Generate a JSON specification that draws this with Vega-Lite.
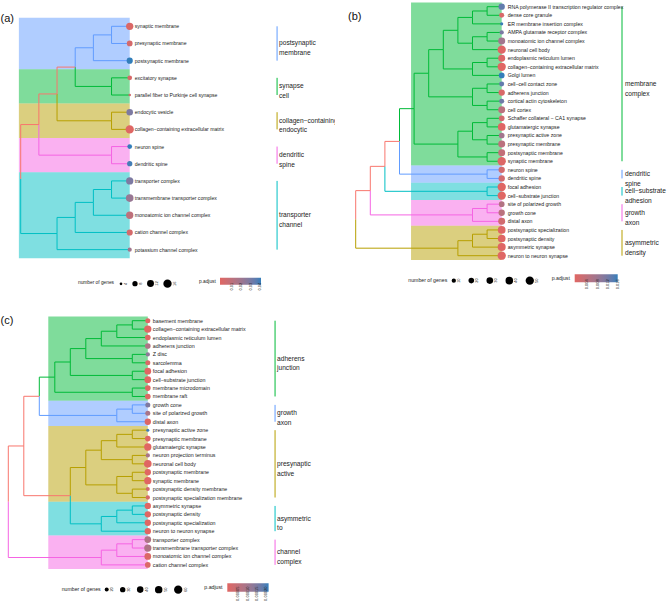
{
  "$schema": "https://vega.github.io/schema/vega-lite/v6.json",
  "padding": 0,
  "background": "white",
  "bounds": "flush",
  "columns": 2,
  "spacing": {"row": 50, "column": 0},
  "config": {
    "view": {"stroke": null},
    "font": "Liberation Sans",
    "style": {"guide-label": {"angle": -90}},
    "legend": {
      "padding": 0,
      "titleFontWeight": "normal",
      "titleColor": "#222",
      "labelColor": "#222",
      "labelOverlap": false,
      "titlePadding": 4,
      "gradientStrokeWidth": 0,
      "symbolStrokeWidth": 0,
      "labelFont": "Liberation Sans",
      "titleFont": "Liberation Sans"
    },
    "title": {"frame": "group", "anchor": "start", "orient": "top", "offset": 0, "baseline": "alphabetic", "fontSize": 11, "fontWeight": "normal", "font": "Liberation Sans", "color": "#111"}
  },
  "datasets": {
    "a_leaves": [
      {"i": 1, "term": "synaptic membrane", "count": 13, "p_adjust": 0.002},
      {"i": 2, "term": "presynaptic membrane", "count": 9, "p_adjust": 0.004},
      {"i": 3, "term": "postsynaptic membrane", "count": 10, "p_adjust": 0.043},
      {"i": 4, "term": "excitatory synapse", "count": 7, "p_adjust": 0.003},
      {"i": 5, "term": "parallel fiber to Purkinje cell synapse", "count": 4, "p_adjust": 0.006},
      {"i": 6, "term": "endocytic vesicle", "count": 11, "p_adjust": 0.031},
      {"i": 7, "term": "collagen−containing extracellular matrix", "count": 16, "p_adjust": 0.0005},
      {"i": 8, "term": "neuron spine", "count": 7, "p_adjust": 0.043},
      {"i": 9, "term": "dendritic spine", "count": 8, "p_adjust": 0.041},
      {"i": 10, "term": "transporter complex", "count": 13, "p_adjust": 0.031},
      {"i": 11, "term": "transmembrane transporter complex", "count": 14, "p_adjust": 0.024},
      {"i": 12, "term": "monoatomic ion channel complex", "count": 13, "p_adjust": 0.012},
      {"i": 13, "term": "cation channel complex", "count": 10, "p_adjust": 0.004},
      {"i": 14, "term": "potassium channel complex", "count": 6, "p_adjust": 0.021}
    ],
    "a_clusters": [
      {"clade": "postsynaptic membrane", "label": ["postsynaptic", "membrane"], "from": 0.5, "to": 3.5, "first": 1, "last": 3, "mid": 2},
      {"clade": "synapse cell", "label": ["synapse", "cell"], "from": 3.5, "to": 5.5, "first": 4, "last": 5, "mid": 4.5},
      {"clade": "collagen−containing endocytic", "label": ["collagen−containing", "endocytic"], "from": 5.5, "to": 7.5, "first": 6, "last": 7, "mid": 6.5},
      {"clade": "dendritic spine", "label": ["dendritic", "spine"], "from": 7.5, "to": 9.5, "first": 8, "last": 9, "mid": 8.5},
      {"clade": "transporter channel", "label": ["transporter", "channel"], "from": 9.5, "to": 14.5, "first": 10, "last": 14, "mid": 12}
    ],
    "a_edges": [
      {"px": 0, "py": 9.890625, "cx": 1, "cy": 6.71875, "clade": "backbone"},
      {"px": 0, "py": 9.890625, "cx": 2, "cy": 13.0625, "clade": "transporter channel"},
      {"px": 1, "py": 6.71875, "cx": 2, "cy": 4.9375, "clade": "backbone"},
      {"px": 1, "py": 6.71875, "cx": 5, "cy": 8.5, "clade": "dendritic spine"},
      {"px": 2, "py": 4.9375, "cx": 3, "cy": 3.375, "clade": "backbone"},
      {"px": 2, "py": 4.9375, "cx": 5, "cy": 6.5, "clade": "collagen−containing endocytic"},
      {"px": 3, "py": 3.375, "cx": 4, "cy": 2.25, "clade": "postsynaptic membrane"},
      {"px": 3, "py": 3.375, "cx": 5, "cy": 4.5, "clade": "synapse cell"},
      {"px": 4, "py": 2.25, "cx": 5, "cy": 1.5, "clade": "postsynaptic membrane"},
      {"px": 4, "py": 2.25, "cx": 6, "cy": 3, "clade": "postsynaptic membrane"},
      {"px": 5, "py": 1.5, "cx": 6, "cy": 1, "clade": "postsynaptic membrane"},
      {"px": 5, "py": 1.5, "cx": 6, "cy": 2, "clade": "postsynaptic membrane"},
      {"px": 5, "py": 4.5, "cx": 6, "cy": 4, "clade": "synapse cell"},
      {"px": 5, "py": 4.5, "cx": 6, "cy": 5, "clade": "synapse cell"},
      {"px": 5, "py": 6.5, "cx": 6, "cy": 6, "clade": "collagen−containing endocytic"},
      {"px": 5, "py": 6.5, "cx": 6, "cy": 7, "clade": "collagen−containing endocytic"},
      {"px": 5, "py": 8.5, "cx": 6, "cy": 8, "clade": "dendritic spine"},
      {"px": 5, "py": 8.5, "cx": 6, "cy": 9, "clade": "dendritic spine"},
      {"px": 2, "py": 13.0625, "cx": 3, "cy": 12.125, "clade": "transporter channel"},
      {"px": 2, "py": 13.0625, "cx": 6, "cy": 14, "clade": "transporter channel"},
      {"px": 3, "py": 12.125, "cx": 4, "cy": 11.25, "clade": "transporter channel"},
      {"px": 3, "py": 12.125, "cx": 6, "cy": 13, "clade": "transporter channel"},
      {"px": 4, "py": 11.25, "cx": 5, "cy": 10.5, "clade": "transporter channel"},
      {"px": 4, "py": 11.25, "cx": 6, "cy": 12, "clade": "transporter channel"},
      {"px": 5, "py": 10.5, "cx": 6, "cy": 10, "clade": "transporter channel"},
      {"px": 5, "py": 10.5, "cx": 6, "cy": 11, "clade": "transporter channel"}
    ],
    "b_leaves": [
      {"i": 1, "term": "RNA polymerase II transcription regulator complex", "count": 27, "p_adjust": 0.014},
      {"i": 2, "term": "dense core granule", "count": 15, "p_adjust": 0.001},
      {"i": 3, "term": "ER membrane insertion complex", "count": 3, "p_adjust": 0.0162},
      {"i": 4, "term": "AMPA glutamate receptor complex", "count": 10, "p_adjust": 0.012},
      {"i": 5, "term": "monoatomic ion channel complex", "count": 34, "p_adjust": 0.008},
      {"i": 6, "term": "neuronal cell body", "count": 50, "p_adjust": 0.0001},
      {"i": 7, "term": "endoplasmic reticulum lumen", "count": 34, "p_adjust": 0.0005},
      {"i": 8, "term": "collagen−containing extracellular matrix", "count": 50, "p_adjust": 0.00001},
      {"i": 9, "term": "Golgi lumen", "count": 21, "p_adjust": 0.0165},
      {"i": 10, "term": "cell−cell contact zone", "count": 15, "p_adjust": 0.014},
      {"i": 11, "term": "adherens junction", "count": 27, "p_adjust": 0.001},
      {"i": 12, "term": "cortical actin cytoskeleton", "count": 15, "p_adjust": 0.013},
      {"i": 13, "term": "cell cortex", "count": 34, "p_adjust": 0.005},
      {"i": 14, "term": "Schaffer collateral − CA1 synapse", "count": 21, "p_adjust": 0.002},
      {"i": 15, "term": "glutamatergic synapse", "count": 42, "p_adjust": 0.0001},
      {"i": 16, "term": "presynaptic active zone", "count": 21, "p_adjust": 0.008},
      {"i": 17, "term": "presynaptic membrane", "count": 34, "p_adjust": 0.005},
      {"i": 18, "term": "postsynaptic membrane", "count": 34, "p_adjust": 0.004},
      {"i": 19, "term": "synaptic membrane", "count": 50, "p_adjust": 0.0005},
      {"i": 20, "term": "neuron spine", "count": 27, "p_adjust": 0.002},
      {"i": 21, "term": "dendritic spine", "count": 27, "p_adjust": 0.002},
      {"i": 22, "term": "focal adhesion", "count": 50, "p_adjust": 0.0002},
      {"i": 23, "term": "cell−substrate junction", "count": 50, "p_adjust": 0.0002},
      {"i": 24, "term": "site of polarized growth", "count": 21, "p_adjust": 0.006},
      {"i": 25, "term": "growth cone", "count": 27, "p_adjust": 0.005},
      {"i": 26, "term": "distal axon", "count": 34, "p_adjust": 0.002},
      {"i": 27, "term": "postsynaptic specialization", "count": 42, "p_adjust": 0.0001},
      {"i": 28, "term": "postsynaptic density", "count": 42, "p_adjust": 0.0001},
      {"i": 29, "term": "asymmetric synapse", "count": 46, "p_adjust": 0.0001},
      {"i": 30, "term": "neuron to neuron synapse", "count": 50, "p_adjust": 0.0001}
    ],
    "b_clusters": [
      {"clade": "membrane complex", "label": ["membrane", "complex"], "from": 0.5, "to": 19.5, "first": 1, "last": 19, "mid": 10},
      {"clade": "dendritic spine", "label": ["dendritic", "spine"], "from": 19.5, "to": 21.5, "first": 20, "last": 21, "mid": 20.5},
      {"clade": "cell−substrate adhesion", "label": ["cell−substrate", "adhesion"], "from": 21.5, "to": 23.5, "first": 22, "last": 23, "mid": 22.5},
      {"clade": "growth axon", "label": ["growth", "axon"], "from": 23.5, "to": 26.5, "first": 24, "last": 26, "mid": 25},
      {"clade": "asymmetric density", "label": ["asymmetric", "density"], "from": 26.5, "to": 30.5, "first": 27, "last": 30, "mid": 28.5}
    ],
    "b_edges": [
      {"px": 0, "py": 25.7734375, "cx": 1, "cy": 22.421875, "clade": "backbone"},
      {"px": 0, "py": 25.7734375, "cx": 7, "cy": 29.125, "clade": "asymmetric density"},
      {"px": 1, "py": 22.421875, "cx": 2, "cy": 19.59375, "clade": "backbone"},
      {"px": 1, "py": 22.421875, "cx": 8, "cy": 25.25, "clade": "growth axon"},
      {"px": 2, "py": 19.59375, "cx": 3, "cy": 16.6875, "clade": "backbone"},
      {"px": 2, "py": 19.59375, "cx": 9, "cy": 22.5, "clade": "cell−substrate adhesion"},
      {"px": 3, "py": 16.6875, "cx": 4, "cy": 12.875, "clade": "membrane complex"},
      {"px": 3, "py": 16.6875, "cx": 9, "cy": 20.5, "clade": "dendritic spine"},
      {"px": 4, "py": 12.875, "cx": 5, "cy": 8.75, "clade": "membrane complex"},
      {"px": 4, "py": 12.875, "cx": 7, "cy": 17, "clade": "membrane complex"},
      {"px": 5, "py": 8.75, "cx": 6, "cy": 6, "clade": "membrane complex"},
      {"px": 5, "py": 8.75, "cx": 8, "cy": 11.5, "clade": "membrane complex"},
      {"px": 6, "py": 6, "cx": 7, "cy": 3.75, "clade": "membrane complex"},
      {"px": 6, "py": 6, "cx": 8, "cy": 8.25, "clade": "membrane complex"},
      {"px": 7, "py": 3.75, "cx": 8, "cy": 2.25, "clade": "membrane complex"},
      {"px": 7, "py": 3.75, "cx": 8, "cy": 5.25, "clade": "membrane complex"},
      {"px": 8, "py": 2.25, "cx": 9, "cy": 1.5, "clade": "membrane complex"},
      {"px": 8, "py": 2.25, "cx": 10, "cy": 3, "clade": "membrane complex"},
      {"px": 9, "py": 1.5, "cx": 10, "cy": 1, "clade": "membrane complex"},
      {"px": 9, "py": 1.5, "cx": 10, "cy": 2, "clade": "membrane complex"},
      {"px": 8, "py": 5.25, "cx": 9, "cy": 4.5, "clade": "membrane complex"},
      {"px": 8, "py": 5.25, "cx": 10, "cy": 6, "clade": "membrane complex"},
      {"px": 9, "py": 4.5, "cx": 10, "cy": 4, "clade": "membrane complex"},
      {"px": 9, "py": 4.5, "cx": 10, "cy": 5, "clade": "membrane complex"},
      {"px": 8, "py": 8.25, "cx": 9, "cy": 7.5, "clade": "membrane complex"},
      {"px": 8, "py": 8.25, "cx": 10, "cy": 9, "clade": "membrane complex"},
      {"px": 9, "py": 7.5, "cx": 10, "cy": 7, "clade": "membrane complex"},
      {"px": 9, "py": 7.5, "cx": 10, "cy": 8, "clade": "membrane complex"},
      {"px": 8, "py": 11.5, "cx": 9, "cy": 10.5, "clade": "membrane complex"},
      {"px": 8, "py": 11.5, "cx": 9, "cy": 12.5, "clade": "membrane complex"},
      {"px": 9, "py": 10.5, "cx": 10, "cy": 10, "clade": "membrane complex"},
      {"px": 9, "py": 10.5, "cx": 10, "cy": 11, "clade": "membrane complex"},
      {"px": 9, "py": 12.5, "cx": 10, "cy": 12, "clade": "membrane complex"},
      {"px": 9, "py": 12.5, "cx": 10, "cy": 13, "clade": "membrane complex"},
      {"px": 7, "py": 17, "cx": 8, "cy": 15.5, "clade": "membrane complex"},
      {"px": 7, "py": 17, "cx": 9, "cy": 18.5, "clade": "membrane complex"},
      {"px": 8, "py": 15.5, "cx": 9, "cy": 14.5, "clade": "membrane complex"},
      {"px": 8, "py": 15.5, "cx": 9, "cy": 16.5, "clade": "membrane complex"},
      {"px": 9, "py": 14.5, "cx": 10, "cy": 14, "clade": "membrane complex"},
      {"px": 9, "py": 14.5, "cx": 10, "cy": 15, "clade": "membrane complex"},
      {"px": 9, "py": 16.5, "cx": 10, "cy": 16, "clade": "membrane complex"},
      {"px": 9, "py": 16.5, "cx": 10, "cy": 17, "clade": "membrane complex"},
      {"px": 9, "py": 18.5, "cx": 10, "cy": 18, "clade": "membrane complex"},
      {"px": 9, "py": 18.5, "cx": 10, "cy": 19, "clade": "membrane complex"},
      {"px": 9, "py": 20.5, "cx": 10, "cy": 20, "clade": "dendritic spine"},
      {"px": 9, "py": 20.5, "cx": 10, "cy": 21, "clade": "dendritic spine"},
      {"px": 9, "py": 22.5, "cx": 10, "cy": 22, "clade": "cell−substrate adhesion"},
      {"px": 9, "py": 22.5, "cx": 10, "cy": 23, "clade": "cell−substrate adhesion"},
      {"px": 8, "py": 25.25, "cx": 9, "cy": 24.5, "clade": "growth axon"},
      {"px": 8, "py": 25.25, "cx": 10, "cy": 26, "clade": "growth axon"},
      {"px": 9, "py": 24.5, "cx": 10, "cy": 24, "clade": "growth axon"},
      {"px": 9, "py": 24.5, "cx": 10, "cy": 25, "clade": "growth axon"},
      {"px": 7, "py": 29.125, "cx": 8, "cy": 28.25, "clade": "asymmetric density"},
      {"px": 7, "py": 29.125, "cx": 10, "cy": 30, "clade": "asymmetric density"},
      {"px": 8, "py": 28.25, "cx": 9, "cy": 27.5, "clade": "asymmetric density"},
      {"px": 8, "py": 28.25, "cx": 10, "cy": 29, "clade": "asymmetric density"},
      {"px": 9, "py": 27.5, "cx": 10, "cy": 27, "clade": "asymmetric density"},
      {"px": 9, "py": 27.5, "cx": 10, "cy": 28, "clade": "asymmetric density"}
    ],
    "c_leaves": [
      {"i": 1, "term": "basement membrane", "count": 27, "p_adjust": 0.000002},
      {"i": 2, "term": "collagen−containing extracellular matrix", "count": 48, "p_adjust": 0.00000001},
      {"i": 3, "term": "endoplasmic reticulum lumen", "count": 32, "p_adjust": 0.000005},
      {"i": 4, "term": "adherens junction", "count": 32, "p_adjust": 0.00009},
      {"i": 5, "term": "Z disc", "count": 22, "p_adjust": 0.00014},
      {"i": 6, "term": "sarcolemma", "count": 27, "p_adjust": 0.00001},
      {"i": 7, "term": "focal adhesion", "count": 42, "p_adjust": 0.0000001},
      {"i": 8, "term": "cell−substrate junction", "count": 42, "p_adjust": 0.0000001},
      {"i": 9, "term": "membrane microdomain", "count": 32, "p_adjust": 0.000003},
      {"i": 10, "term": "membrane raft", "count": 32, "p_adjust": 0.000003},
      {"i": 11, "term": "growth cone", "count": 27, "p_adjust": 0.00016},
      {"i": 12, "term": "site of polarized growth", "count": 27, "p_adjust": 0.0001},
      {"i": 13, "term": "distal axon", "count": 38, "p_adjust": 0.000005},
      {"i": 14, "term": "presynaptic active zone", "count": 15, "p_adjust": 0.00022},
      {"i": 15, "term": "presynaptic membrane", "count": 32, "p_adjust": 0.000004},
      {"i": 16, "term": "glutamatergic synapse", "count": 48, "p_adjust": 0.00000001},
      {"i": 17, "term": "neuron projection terminus", "count": 22, "p_adjust": 0.0001},
      {"i": 18, "term": "neuronal cell body", "count": 52, "p_adjust": 0.000000001},
      {"i": 19, "term": "postsynaptic membrane", "count": 38, "p_adjust": 0.0000001},
      {"i": 20, "term": "synaptic membrane", "count": 48, "p_adjust": 0.00000001},
      {"i": 21, "term": "postsynaptic density membrane", "count": 20, "p_adjust": 0.00003},
      {"i": 22, "term": "postsynaptic specialization membrane", "count": 22, "p_adjust": 0.00002},
      {"i": 23, "term": "asymmetric synapse", "count": 38, "p_adjust": 0.0000001},
      {"i": 24, "term": "postsynaptic density", "count": 38, "p_adjust": 0.0000001},
      {"i": 25, "term": "postsynaptic specialization", "count": 38, "p_adjust": 0.0000001},
      {"i": 26, "term": "neuron to neuron synapse", "count": 38, "p_adjust": 0.0000001},
      {"i": 27, "term": "transporter complex", "count": 42, "p_adjust": 0.00009},
      {"i": 28, "term": "transmembrane transporter complex", "count": 48, "p_adjust": 0.00009},
      {"i": 29, "term": "monoatomic ion channel complex", "count": 42, "p_adjust": 0.00001},
      {"i": 30, "term": "cation channel complex", "count": 32, "p_adjust": 0.00001}
    ],
    "c_clusters": [
      {"clade": "adherens junction", "label": ["adherens", "junction"], "from": 0.5, "to": 10.5, "first": 1, "last": 10, "mid": 5.5},
      {"clade": "growth axon", "label": ["growth", "axon"], "from": 10.5, "to": 13.5, "first": 11, "last": 13, "mid": 12},
      {"clade": "presynaptic active", "label": ["presynaptic", "active"], "from": 13.5, "to": 22.5, "first": 14, "last": 22, "mid": 18},
      {"clade": "asymmetric to", "label": ["asymmetric", "to"], "from": 22.5, "to": 26.5, "first": 23, "last": 26, "mid": 24.5},
      {"clade": "channel complex", "label": ["channel", "complex"], "from": 26.5, "to": 30.5, "first": 27, "last": 30, "mid": 28.5}
    ],
    "c_edges": [
      {"px": 0, "py": 22.501953125, "cx": 1, "cy": 15.87890625, "clade": "backbone"},
      {"px": 0, "py": 22.501953125, "cx": 6, "cy": 29.125, "clade": "channel complex"},
      {"px": 1, "py": 15.87890625, "cx": 2, "cy": 9.9765625, "clade": "backbone"},
      {"px": 1, "py": 15.87890625, "cx": 4, "cy": 21.78125, "clade": "backbone"},
      {"px": 2, "py": 9.9765625, "cx": 3, "cy": 7.703125, "clade": "adherens junction"},
      {"px": 2, "py": 9.9765625, "cx": 7, "cy": 12.25, "clade": "growth axon"},
      {"px": 4, "py": 21.78125, "cx": 5, "cy": 18.4375, "clade": "presynaptic active"},
      {"px": 4, "py": 21.78125, "cx": 6, "cy": 25.125, "clade": "asymmetric to"},
      {"px": 3, "py": 7.703125, "cx": 4, "cy": 5.90625, "clade": "adherens junction"},
      {"px": 3, "py": 7.703125, "cx": 8, "cy": 9.5, "clade": "adherens junction"},
      {"px": 4, "py": 5.90625, "cx": 5, "cy": 4.3125, "clade": "adherens junction"},
      {"px": 4, "py": 5.90625, "cx": 8, "cy": 7.5, "clade": "adherens junction"},
      {"px": 5, "py": 4.3125, "cx": 6, "cy": 3.125, "clade": "adherens junction"},
      {"px": 5, "py": 4.3125, "cx": 8, "cy": 5.5, "clade": "adherens junction"},
      {"px": 6, "py": 3.125, "cx": 7, "cy": 2.25, "clade": "adherens junction"},
      {"px": 6, "py": 3.125, "cx": 9, "cy": 4, "clade": "adherens junction"},
      {"px": 7, "py": 2.25, "cx": 8, "cy": 1.5, "clade": "adherens junction"},
      {"px": 7, "py": 2.25, "cx": 9, "cy": 3, "clade": "adherens junction"},
      {"px": 8, "py": 1.5, "cx": 9, "cy": 1, "clade": "adherens junction"},
      {"px": 8, "py": 1.5, "cx": 9, "cy": 2, "clade": "adherens junction"},
      {"px": 8, "py": 5.5, "cx": 9, "cy": 5, "clade": "adherens junction"},
      {"px": 8, "py": 5.5, "cx": 9, "cy": 6, "clade": "adherens junction"},
      {"px": 8, "py": 7.5, "cx": 9, "cy": 7, "clade": "adherens junction"},
      {"px": 8, "py": 7.5, "cx": 9, "cy": 8, "clade": "adherens junction"},
      {"px": 8, "py": 9.5, "cx": 9, "cy": 9, "clade": "adherens junction"},
      {"px": 8, "py": 9.5, "cx": 9, "cy": 10, "clade": "adherens junction"},
      {"px": 7, "py": 12.25, "cx": 8, "cy": 11.5, "clade": "growth axon"},
      {"px": 7, "py": 12.25, "cx": 9, "cy": 13, "clade": "growth axon"},
      {"px": 8, "py": 11.5, "cx": 9, "cy": 11, "clade": "growth axon"},
      {"px": 8, "py": 11.5, "cx": 9, "cy": 12, "clade": "growth axon"},
      {"px": 5, "py": 18.4375, "cx": 6, "cy": 16.375, "clade": "presynaptic active"},
      {"px": 5, "py": 18.4375, "cx": 7, "cy": 20.5, "clade": "presynaptic active"},
      {"px": 6, "py": 16.375, "cx": 7, "cy": 15.25, "clade": "presynaptic active"},
      {"px": 6, "py": 16.375, "cx": 8, "cy": 17.5, "clade": "presynaptic active"},
      {"px": 7, "py": 15.25, "cx": 8, "cy": 14.5, "clade": "presynaptic active"},
      {"px": 7, "py": 15.25, "cx": 9, "cy": 16, "clade": "presynaptic active"},
      {"px": 8, "py": 14.5, "cx": 9, "cy": 14, "clade": "presynaptic active"},
      {"px": 8, "py": 14.5, "cx": 9, "cy": 15, "clade": "presynaptic active"},
      {"px": 8, "py": 17.5, "cx": 9, "cy": 17, "clade": "presynaptic active"},
      {"px": 8, "py": 17.5, "cx": 9, "cy": 18, "clade": "presynaptic active"},
      {"px": 7, "py": 20.5, "cx": 8, "cy": 19.5, "clade": "presynaptic active"},
      {"px": 7, "py": 20.5, "cx": 8, "cy": 21.5, "clade": "presynaptic active"},
      {"px": 8, "py": 19.5, "cx": 9, "cy": 19, "clade": "presynaptic active"},
      {"px": 8, "py": 19.5, "cx": 9, "cy": 20, "clade": "presynaptic active"},
      {"px": 8, "py": 21.5, "cx": 9, "cy": 21, "clade": "presynaptic active"},
      {"px": 8, "py": 21.5, "cx": 9, "cy": 22, "clade": "presynaptic active"},
      {"px": 6, "py": 25.125, "cx": 7, "cy": 24.25, "clade": "asymmetric to"},
      {"px": 6, "py": 25.125, "cx": 9, "cy": 26, "clade": "asymmetric to"},
      {"px": 7, "py": 24.25, "cx": 8, "cy": 23.5, "clade": "asymmetric to"},
      {"px": 7, "py": 24.25, "cx": 9, "cy": 25, "clade": "asymmetric to"},
      {"px": 8, "py": 23.5, "cx": 9, "cy": 23, "clade": "asymmetric to"},
      {"px": 8, "py": 23.5, "cx": 9, "cy": 24, "clade": "asymmetric to"},
      {"px": 6, "py": 29.125, "cx": 7, "cy": 28.25, "clade": "channel complex"},
      {"px": 6, "py": 29.125, "cx": 9, "cy": 30, "clade": "channel complex"},
      {"px": 7, "py": 28.25, "cx": 8, "cy": 27.5, "clade": "channel complex"},
      {"px": 7, "py": 28.25, "cx": 9, "cy": 29, "clade": "channel complex"},
      {"px": 8, "py": 27.5, "cx": 9, "cy": 27, "clade": "channel complex"},
      {"px": 8, "py": 27.5, "cx": 9, "cy": 28, "clade": "channel complex"}
    ]
  },
  "resolve": {
    "scale": {"x": "independent", "y": "independent", "color": "independent", "size": "independent", "fill": "independent", "stroke": "independent"},
    "legend": {"color": "independent", "size": "independent"}
  },
  "concat": [
    {
      "width": 335,
      "height": 260,
      "title": {"text": "(a)", "dx": 0.5, "dy": 28},
      "layer": [
        {
          "data": {"name": "a_clusters"},
          "mark": {"type": "rect", "fillOpacity": 0.5},
          "encoding": {
            "x": {"datum": -0.1, "type": "quantitative", "scale": {"domain": [-1.139, 17.298], "nice": false, "zero": false}, "axis": null},
            "x2": {"datum": 6},
            "y": {"field": "from", "type": "quantitative", "scale": {"domain": [-0.531, 14.603], "reverse": true, "nice": false, "zero": false}, "axis": null},
            "y2": {"field": "to"},
            "fill": {"field": "clade", "type": "nominal", "legend": null, "scale": {"domain": ["backbone", "postsynaptic membrane", "synapse cell", "collagen−containing endocytic", "dendritic spine", "transporter channel"], "range": ["#F8766D", "#619CFF", "#00BA38", "#B79F00", "#F564E3", "#00BFC4"]}}
          }
        },
        {
          "data": {"name": "a_edges"},
          "mark": {"type": "rule", "strokeWidth": 1},
          "encoding": {
            "x": {"field": "px", "type": "quantitative"},
            "y": {"field": "py", "type": "quantitative"},
            "y2": {"field": "cy"},
            "stroke": {"field": "clade", "type": "nominal", "legend": null, "scale": {"domain": ["backbone", "postsynaptic membrane", "synapse cell", "collagen−containing endocytic", "dendritic spine", "transporter channel"], "range": ["#F8766D", "#619CFF", "#00BA38", "#B79F00", "#F564E3", "#00BFC4"]}}
          }
        },
        {
          "data": {"name": "a_edges"},
          "mark": {"type": "rule", "strokeWidth": 1},
          "encoding": {
            "x": {"field": "px", "type": "quantitative"},
            "x2": {"field": "cx"},
            "y": {"field": "cy", "type": "quantitative"},
            "stroke": {"field": "clade", "type": "nominal", "legend": null}
          }
        },
        {
          "data": {"name": "a_clusters"},
          "mark": {"type": "rule", "strokeWidth": 1},
          "encoding": {
            "x": {"datum": 14.11, "type": "quantitative"},
            "y": {"field": "first", "type": "quantitative"},
            "y2": {"field": "last"},
            "stroke": {"field": "clade", "type": "nominal", "legend": null}
          }
        },
        {
          "data": {"name": "a_clusters"},
          "mark": {"type": "text", "align": "left", "baseline": "middle", "dx": 2, "fontSize": 6.6, "lineHeight": 9.7, "color": "#222", "clip": true},
          "encoding": {
            "x": {"datum": 14.11, "type": "quantitative"},
            "y": {"field": "mid", "type": "quantitative"},
            "text": {"field": "label", "type": "nominal"}
          }
        },
        {
          "data": {"name": "a_leaves"},
          "mark": {"type": "circle", "opacity": 1},
          "encoding": {
            "x": {"datum": 6, "type": "quantitative"},
            "y": {"field": "i", "type": "quantitative"},
            "size": {
              "field": "count", "type": "quantitative",
              "scale": {"domain": [4, 16], "range": [7, 69], "zero": false},
              "legend": {
                "title": "number of genes", "orient": "none", "legendX": 78, "legendY": 279, "direction": "horizontal",
                "titleOrient": "left", "titleAnchor": "middle", "titleBaseline": "middle", "titleFontSize": 4.8,
                "labelFontSize": 4, "labelOffset": 3, "columnPadding": 4, "values": [4, 8, 12, 16],
                "labelAlign": "center", "labelBaseline": "middle",
                "symbolFillColor": "black", "symbolOpacity": 1, "symbolType": "circle"
              }
            },
            "color": {
              "field": "p_adjust", "type": "quantitative",
              "scale": {"domain": [0, 0.043], "range": ["#e06663", "#327eba"], "interpolate": "lab"},
              "legend": {
                "title": "p.adjust", "orient": "none", "legendX": 199, "legendY": 277.7, "direction": "horizontal",
                "titleOrient": "left", "titleAnchor": "middle", "titleBaseline": "middle", "titleFontSize": 4.8,
                "gradientLength": 41, "gradientThickness": 7, "values": [0.01, 0.02, 0.03, 0.04], "format": ".2f",
                "labelFontSize": 4, "labelOffset": 2, "labelAlign": "right", "labelBaseline": "middle"
              }
            }
          }
        },
        {
          "data": {"name": "a_leaves"},
          "mark": {"type": "text", "align": "left", "baseline": "middle", "dx": 5, "fontSize": 5.1, "color": "#222"},
          "encoding": {
            "x": {"datum": 6, "type": "quantitative"},
            "y": {"field": "i", "type": "quantitative"},
            "text": {"field": "term", "type": "nominal"}
          }
        }
      ]
    },
    {
      "width": 334,
      "height": 260,
      "title": {"text": "(b)", "dx": 13, "dy": 26},
      "layer": [
        {
          "data": {"name": "b_clusters"},
          "mark": {"type": "rect", "fillOpacity": 0.5},
          "encoding": {
            "x": {"datum": 3.79, "type": "quantitative", "scale": {"domain": [-1.418, 21.459], "nice": false, "zero": false}, "axis": null},
            "x2": {"datum": 10},
            "y": {"field": "from", "type": "quantitative", "scale": {"domain": [0.2197, 30.501], "reverse": true, "nice": false, "zero": false}, "axis": null},
            "y2": {"field": "to"},
            "fill": {"field": "clade", "type": "nominal", "legend": null, "scale": {"domain": ["backbone", "membrane complex", "dendritic spine", "cell−substrate adhesion", "growth axon", "asymmetric density"], "range": ["#F8766D", "#00BA38", "#619CFF", "#00BFC4", "#F564E3", "#B79F00"]}}
          }
        },
        {
          "data": {"name": "b_edges"},
          "mark": {"type": "rule", "strokeWidth": 1},
          "encoding": {
            "x": {"field": "px", "type": "quantitative"},
            "y": {"field": "py", "type": "quantitative"},
            "y2": {"field": "cy"},
            "stroke": {"field": "clade", "type": "nominal", "legend": null, "scale": {"domain": ["backbone", "membrane complex", "dendritic spine", "cell−substrate adhesion", "growth axon", "asymmetric density"], "range": ["#F8766D", "#00BA38", "#619CFF", "#00BFC4", "#F564E3", "#B79F00"]}}
          }
        },
        {
          "data": {"name": "b_edges"},
          "mark": {"type": "rule", "strokeWidth": 1},
          "encoding": {
            "x": {"field": "px", "type": "quantitative"},
            "x2": {"field": "cx"},
            "y": {"field": "cy", "type": "quantitative"},
            "stroke": {"field": "clade", "type": "nominal", "legend": null}
          }
        },
        {
          "data": {"name": "b_clusters"},
          "mark": {"type": "rule", "strokeWidth": 1},
          "encoding": {
            "x": {"datum": 18.24, "type": "quantitative"},
            "y": {"field": "first", "type": "quantitative"},
            "y2": {"field": "last"},
            "stroke": {"field": "clade", "type": "nominal", "legend": null}
          }
        },
        {
          "data": {"name": "b_clusters"},
          "mark": {"type": "text", "align": "left", "baseline": "middle", "dx": 3, "fontSize": 6.6, "lineHeight": 10, "color": "#222"},
          "encoding": {
            "x": {"datum": 18.24, "type": "quantitative"},
            "y": {"field": "mid", "type": "quantitative"},
            "text": {"field": "label", "type": "nominal"}
          }
        },
        {
          "data": {"name": "b_leaves"},
          "mark": {"type": "circle", "opacity": 1},
          "encoding": {
            "x": {"datum": 10, "type": "quantitative"},
            "y": {"field": "i", "type": "quantitative"},
            "size": {
              "field": "count", "type": "quantitative",
              "scale": {"domain": [10, 50], "range": [18.5, 69], "zero": false},
              "legend": {
                "title": "number of genes", "orient": "none", "legendX": 73.3, "legendY": 276, "direction": "horizontal",
                "titleOrient": "left", "titleAnchor": "middle", "titleBaseline": "middle", "titleFontSize": 5.2,
                "labelFontSize": 4, "labelOffset": 3, "columnPadding": 7, "values": [10, 20, 30, 40, 50],
                "labelAlign": "center", "labelBaseline": "middle",
                "symbolFillColor": "black", "symbolOpacity": 1, "symbolType": "circle"
              }
            },
            "color": {
              "field": "p_adjust", "type": "quantitative",
              "scale": {"domain": [0, 0.0165], "range": ["#e06663", "#327eba"], "interpolate": "lab"},
              "legend": {
                "title": "p.adjust", "orient": "none", "legendX": 216.7, "legendY": 274.3, "direction": "horizontal",
                "titleOrient": "left", "titleAnchor": "middle", "titleBaseline": "middle", "titleFontSize": 5.2,
                "gradientLength": 43, "gradientThickness": 8, "values": [0.004, 0.008, 0.012, 0.016], "format": ".3f",
                "labelFontSize": 4, "labelOffset": 2, "labelAlign": "right", "labelBaseline": "middle"
              }
            }
          }
        },
        {
          "data": {"name": "b_leaves"},
          "mark": {"type": "text", "align": "left", "baseline": "middle", "dx": 6, "fontSize": 5.2, "color": "#222"},
          "encoding": {
            "x": {"datum": 10, "type": "quantitative"},
            "y": {"field": "i", "type": "quantitative"},
            "text": {"field": "term", "type": "nominal"}
          }
        }
      ]
    },
    {
      "width": 335,
      "height": 260,
      "title": {"text": "(c)", "dx": 0.5, "dy": 20},
      "layer": [
        {
          "data": {"name": "c_clusters"},
          "mark": {"type": "rect", "fillOpacity": 0.5},
          "encoding": {
            "x": {"datum": 2.58, "type": "quantitative", "scale": {"domain": [-0.5355, 21.077], "nice": false, "zero": false}, "axis": null},
            "x2": {"datum": 9},
            "y": {"field": "from", "type": "quantitative", "scale": {"domain": [-0.2708, 30.608], "reverse": true, "nice": false, "zero": false}, "axis": null},
            "y2": {"field": "to"},
            "fill": {"field": "clade", "type": "nominal", "legend": null, "scale": {"domain": ["backbone", "adherens junction", "growth axon", "presynaptic active", "asymmetric to", "channel complex"], "range": ["#F8766D", "#00BA38", "#619CFF", "#B79F00", "#00BFC4", "#F564E3"]}}
          }
        },
        {
          "data": {"name": "c_edges"},
          "mark": {"type": "rule", "strokeWidth": 1},
          "encoding": {
            "x": {"field": "px", "type": "quantitative"},
            "y": {"field": "py", "type": "quantitative"},
            "y2": {"field": "cy"},
            "stroke": {"field": "clade", "type": "nominal", "legend": null, "scale": {"domain": ["backbone", "adherens junction", "growth axon", "presynaptic active", "asymmetric to", "channel complex"], "range": ["#F8766D", "#00BA38", "#619CFF", "#B79F00", "#00BFC4", "#F564E3"]}}
          }
        },
        {
          "data": {"name": "c_edges"},
          "mark": {"type": "rule", "strokeWidth": 1},
          "encoding": {
            "x": {"field": "px", "type": "quantitative"},
            "x2": {"field": "cx"},
            "y": {"field": "cy", "type": "quantitative"},
            "stroke": {"field": "clade", "type": "nominal", "legend": null}
          }
        },
        {
          "data": {"name": "c_clusters"},
          "mark": {"type": "rule", "strokeWidth": 1},
          "encoding": {
            "x": {"datum": 17.21, "type": "quantitative"},
            "y": {"field": "first", "type": "quantitative"},
            "y2": {"field": "last"},
            "stroke": {"field": "clade", "type": "nominal", "legend": null}
          }
        },
        {
          "data": {"name": "c_clusters"},
          "mark": {"type": "text", "align": "left", "baseline": "middle", "dx": 2, "fontSize": 6.6, "lineHeight": 9.7, "color": "#222"},
          "encoding": {
            "x": {"datum": 17.21, "type": "quantitative"},
            "y": {"field": "mid", "type": "quantitative"},
            "text": {"field": "label", "type": "nominal"}
          }
        },
        {
          "data": {"name": "c_leaves"},
          "mark": {"type": "circle", "opacity": 1},
          "encoding": {
            "x": {"datum": 9, "type": "quantitative"},
            "y": {"field": "i", "type": "quantitative"},
            "size": {
              "field": "count", "type": "quantitative",
              "scale": {"domain": [20, 60], "range": [16, 69], "zero": false},
              "legend": {
                "title": "number of genes", "orient": "none", "legendX": 61.7, "legendY": 275, "direction": "horizontal",
                "titleOrient": "left", "titleAnchor": "middle", "titleBaseline": "middle", "titleFontSize": 5.2,
                "labelFontSize": 4, "labelOffset": 3, "columnPadding": 6, "values": [20, 30, 40, 50, 60],
                "labelAlign": "center", "labelBaseline": "middle",
                "symbolFillColor": "black", "symbolOpacity": 1, "symbolType": "circle"
              }
            },
            "color": {
              "field": "p_adjust", "type": "quantitative",
              "scale": {"domain": [0, 0.000226], "range": ["#e06663", "#327eba"], "interpolate": "lab"},
              "legend": {
                "title": "p.adjust", "orient": "none", "legendX": 204.3, "legendY": 273.3, "direction": "horizontal",
                "titleOrient": "left", "titleAnchor": "middle", "titleBaseline": "middle", "titleFontSize": 5.2,
                "gradientLength": 41.3, "gradientThickness": 8.4, "values": [0.00005, 0.0001, 0.00015, 0.0002], "format": ".5f",
                "labelFontSize": 4, "labelOffset": 2, "labelAlign": "right", "labelBaseline": "middle"
              }
            }
          }
        },
        {
          "data": {"name": "c_leaves"},
          "mark": {"type": "text", "align": "left", "baseline": "middle", "dx": 5, "fontSize": 5.3, "color": "#222"},
          "encoding": {
            "x": {"datum": 9, "type": "quantitative"},
            "y": {"field": "i", "type": "quantitative"},
            "text": {"field": "term", "type": "nominal"}
          }
        }
      ]
    }
  ]
}
